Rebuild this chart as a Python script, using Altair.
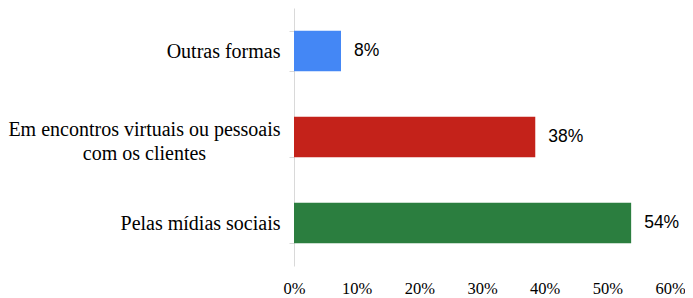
import altair as alt
import pandas as pd

categories = ["Outras formas",
              "Em encontros virtuais ou pessoais com os clientes",
              "Pelas mídias sociais"]
long_label_lines = ["Em encontros virtuais ou pessoais", "com os clientes"]
values = [7.5, 38.5, 53.8]
value_labels = ["8%", "38%", "54%"]
colors = ["#4487F5", "#C4221A", "#2B7E3F"]
x_ticks = [0, 10, 20, 30, 40, 50, 60]

df = pd.DataFrame({"cat": categories, "val": values, "lab": value_labels})

SERIF = "'Liberation Serif', 'Times New Roman', Times, serif"
SANS = "'Liberation Sans', Arial, Helvetica, sans-serif"

is_long = f"datum.value == '{categories[1]}'"
label_expr = (
    f"datum.value == '{categories[1]}' ? "
    f"['{long_label_lines[0]}', '{long_label_lines[1]}'] : datum.label"
)

y_enc = alt.Y(
    "cat:N", sort=categories, title=None,
    scale=alt.Scale(paddingInner=0.53, paddingOuter=0.265),
    axis=alt.Axis(
        domainColor="#D9D9D9", tickColor="#D9D9D9", tickSize=5, tickBand="extent",
        labelFont=SERIF, labelFontSize=20, labelColor="#000000",
        labelAlign={"condition": {"test": is_long, "value": "center"}, "value": "right"},
        labelPadding={"condition": {"test": is_long, "value": 145}, "value": 9},
        labelOffset={"condition": {"test": is_long, "value": -8}, "value": 0},
        labelLimit=400, labelLineHeight=24,
        labelExpr=label_expr,
    ),
)

x_enc = alt.X(
    "val:Q", title=None,
    scale=alt.Scale(domain=[0, 60], nice=False),
    axis=alt.Axis(
        values=x_ticks, domain=False, ticks=False, grid=False, labelFlush=False,
        labelFont=SERIF, labelFontSize=16.5, labelColor="#000000",
        labelPadding=14, labelExpr="datum.value + '%'",
    ),
)

bars = alt.Chart(df).mark_bar().encode(
    x=x_enc, y=y_enc,
    color=alt.Color("cat:N", scale=alt.Scale(domain=categories, range=colors), legend=None),
)

text = alt.Chart(df).mark_text(
    align="left", baseline="middle", dx=13,
    font=SANS, fontSize=17.5, color="#000000",
).encode(x="val:Q", y=alt.Y("cat:N", sort=categories), text="lab:N")

chart = alt.layer(bars, text).properties(
    width=376, height=258,
    background="white",
    autosize=alt.AutoSizeParams(type="none"),
    padding={"left": 286, "top": 0, "right": 15, "bottom": 32},
).configure_view(strokeWidth=0)

chart.save("out.html", embed_options={"renderer": "svg", "actions": False})
